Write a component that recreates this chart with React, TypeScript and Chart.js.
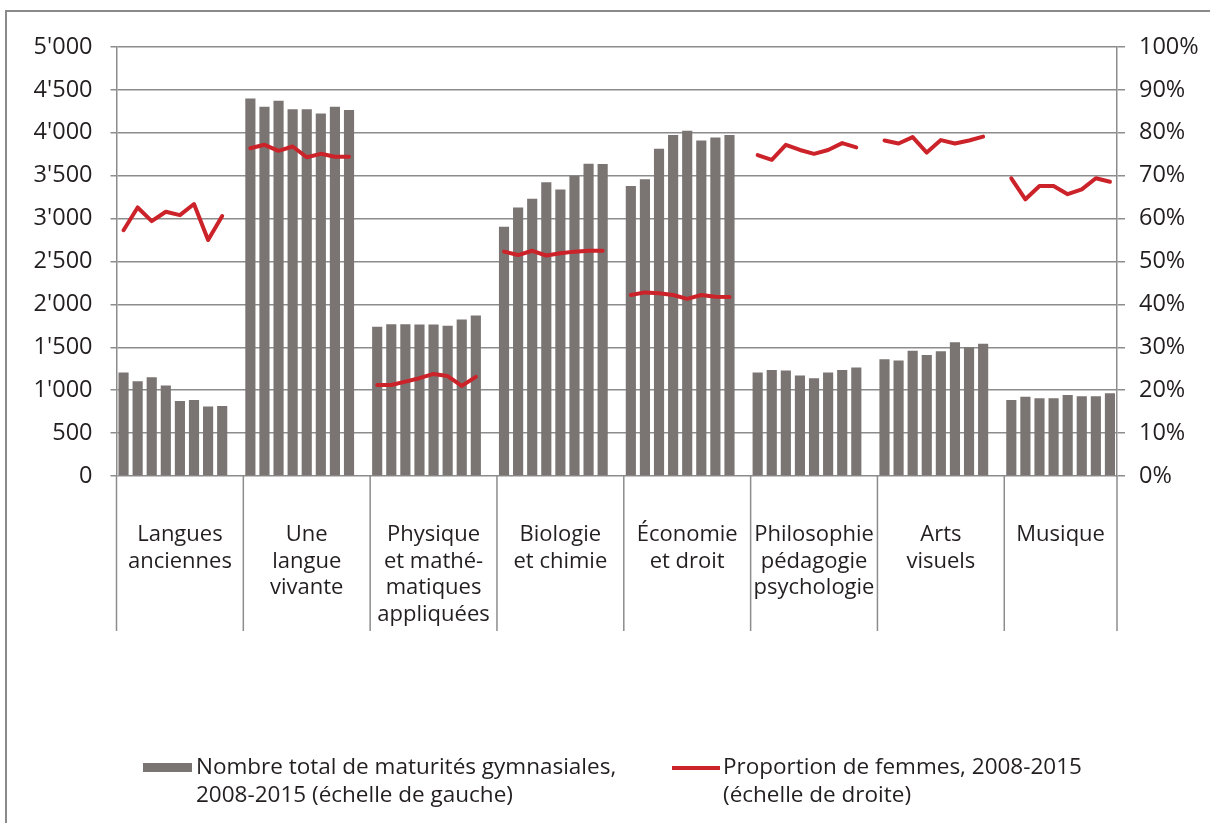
import React, { useEffect, useRef } from "react";
import { Chart, registerables } from "chart.js";

Chart.register(...registerables);

const groupLabels: string[][] = [
  ["Langues", "anciennes"],
  ["Une", "langue", "vivante"],
  ["Physique", "et mathé-", "matiques", "appliquées"],
  ["Biologie", "et chimie"],
  ["Économie", "et droit"],
  ["Philosophie", "pédagogie", "psychologie"],
  ["Arts", "visuels"],
  ["Musique"],
];

const years = ["2008", "2009", "2010", "2011", "2012", "2013", "2014", "2015"];

const totalsLangues = [1205, 1105, 1150, 1055, 875, 885, 810, 815];
const totalsLangueVivante = [4400, 4305, 4375, 4275, 4275, 4225, 4305, 4265];
const totalsPhysique = [1740, 1770, 1770, 1765, 1765, 1750, 1825, 1870];
const totalsBiologie = [2905, 3130, 3230, 3425, 3340, 3500, 3640, 3635];
const totalsEconomie = [3380, 3460, 3815, 3975, 4025, 3910, 3945, 3975];
const totalsPhilosophie = [1205, 1235, 1230, 1170, 1140, 1205, 1235, 1265];
const totalsArts = [1360, 1345, 1460, 1410, 1455, 1560, 1500, 1540];
const totalsMusique = [885, 925, 905, 905, 945, 930, 930, 965];

const womenLangues = [57.3, 62.6, 59.4, 61.6, 60.8, 63.4, 55.0, 60.6];
const womenLangueVivante = [76.4, 77.2, 75.8, 76.8, 74.3, 75.1, 74.4, 74.4];
const womenPhysique = [21.2, 21.2, 22.0, 22.8, 23.8, 23.3, 21.0, 23.1];
const womenBiologie = [52.3, 51.5, 52.5, 51.4, 51.9, 52.3, 52.5, 52.5];
const womenEconomie = [42.2, 42.8, 42.6, 42.2, 41.3, 42.2, 41.8, 41.7];
const womenPhilosophie = [74.8, 73.7, 77.2, 76.0, 75.1, 76.0, 77.6, 76.6];
const womenArts = [78.2, 77.5, 79.0, 75.4, 78.3, 77.5, 78.2, 79.1];
const womenMusique = [69.4, 64.5, 67.6, 67.6, 65.7, 66.8, 69.4, 68.6];

const leftTicks = [0, 500, 1000, 1500, 2000, 2500, 3000, 3500, 4000, 4500, 5000];
const rightTicks = [0, 10, 20, 30, 40, 50, 60, 70, 80, 90, 100];

const legendBarLabel = ["Nombre total de maturités gymnasiales,", "2008-2015 (échelle de gauche)"];
const legendLineLabel = ["Proportion de femmes, 2008-2015", "(échelle de droite)"];

const allTotals = [
  totalsLangues, totalsLangueVivante, totalsPhysique, totalsBiologie,
  totalsEconomie, totalsPhilosophie, totalsArts, totalsMusique,
];
const allWomen = [
  womenLangues, womenLangueVivante, womenPhysique, womenBiologie,
  womenEconomie, womenPhilosophie, womenArts, womenMusique,
];

const SLOTS_PER_GROUP = years.length + 1;

function buildSlots(src: number[][]): (number | null)[] {
  const out: (number | null)[] = [];
  src.forEach((arr, gi) => {
    arr.forEach((v) => out.push(v));
    if (gi < src.length - 1) out.push(null);
  });
  return out;
}

const FONT = "'Open Sans', 'DejaVu Sans', sans-serif";
const TEXT = "#231f20";
const GRID = "#8c8c8c";
const BAR = "#7a7572";
const RED = "#cc2229";

function fmtThousands(v: number): string {
  const s = String(Math.round(v));
  return s.replace(/\B(?=(\d{3})+(?!\d))/g, "'");
}

const overlay = {
  id: "overlay",
  beforeDraw(chart: any) {
    const ctx = chart.ctx;
    ctx.save();
    ctx.fillStyle = "#ffffff";
    ctx.fillRect(0, 0, chart.width, chart.height);
    ctx.strokeStyle = "#8a8a8a";
    ctx.lineWidth = 2;
    ctx.beginPath();
    ctx.moveTo(6, chart.height);
    ctx.lineTo(6, 11);
    ctx.lineTo(chart.width, 11);
    ctx.stroke();
    ctx.restore();
  },
  afterDraw(chart: any) {
    const ctx = chart.ctx;
    const x = chart.scales.x;
    const area = chart.chartArea;
    const slotW = x.getPixelForValue(1) - x.getPixelForValue(0);
    ctx.save();
    ctx.strokeStyle = GRID;
    ctx.lineWidth = 1.5;
    const bottomY = 631;
    const edges: number[] = [];
    for (let g = 0; g < groupLabels.length; g++) {
      edges.push(x.getPixelForValue(g * SLOTS_PER_GROUP) - slotW / 2);
    }
    edges.push(area.right);
    edges.forEach((ex) => {
      ctx.beginPath();
      ctx.moveTo(ex, area.bottom);
      ctx.lineTo(ex, bottomY);
      ctx.stroke();
    });
    ctx.fillStyle = TEXT;
    ctx.font = `22px ${FONT}`;
    ctx.textAlign = "center";
    ctx.textBaseline = "middle";
    groupLabels.forEach((lines, g) => {
      const cx = (edges[g] + edges[g + 1]) / 2;
      lines.forEach((ln, i) => {
        ctx.fillText(ln, cx, 535 + i * 26.5);
      });
    });
    // legend
    ctx.font = `22.5px ${FONT}`;
    ctx.textAlign = "left";
    ctx.fillStyle = BAR;
    ctx.fillRect(143, 763, 49, 9);
    ctx.fillStyle = TEXT;
    legendBarLabel.forEach((ln, i) => ctx.fillText(ln, 196, 768 + i * 28));
    ctx.strokeStyle = RED;
    ctx.lineWidth = 4;
    ctx.beginPath();
    ctx.moveTo(672, 768);
    ctx.lineTo(720, 768);
    ctx.stroke();
    legendLineLabel.forEach((ln, i) => ctx.fillText(ln, 723, 768 + i * 28));
    ctx.restore();
  },
};

export default function App() {
  const ref = useRef<HTMLCanvasElement | null>(null);
  useEffect(() => {
    if (!ref.current) return;
    const barData = buildSlots(allTotals);
    const lineData = buildSlots(allWomen);
    const labels = barData.map((_, i) => String(i));
    const chart = new Chart(ref.current, {
      type: "bar",
      data: {
        labels,
        datasets: [
          {
            type: "line",
            label: legendLineLabel.join(" "),
            data: lineData,
            yAxisID: "y1",
            borderColor: RED,
            backgroundColor: RED,
            borderWidth: 4,
            pointRadius: 0,
            spanGaps: false,
            tension: 0,
            borderJoinStyle: "round",
            borderCapStyle: "round",
            order: 0,
          } as any,
          {
            type: "bar",
            label: legendBarLabel.join(" "),
            data: barData,
            yAxisID: "y",
            backgroundColor: BAR,
            borderWidth: 0,
            categoryPercentage: 1,
            barPercentage: 0.72,
            order: 1,
          } as any,
        ],
      },
      options: {
        animation: false,
        responsive: false,
        maintainAspectRatio: false,
        layout: { padding: { top: 47, left: 0, right: 0, bottom: 0 } },
        plugins: {
          legend: { display: false },
          tooltip: { enabled: false },
          title: { display: false },
        },
        scales: {
          x: {
            type: "category",
            offset: true,
            grid: { display: false },
            border: { display: false },
            ticks: { display: false },
            afterFit: (s: any) => {
              s.height = 823 - 476;
            },
          },
          y: {
            position: "left",
            min: 0,
            max: 5000,
            afterBuildTicks: (s: any) => {
              s.ticks = leftTicks.map((v) => ({ value: v }));
            },
            afterFit: (s: any) => {
              s.width = 116.5;
            },
            grid: {
              color: GRID,
              lineWidth: 1.5,
              tickLength: 6,
              tickColor: GRID,
              drawTicks: true,
            },
            border: { display: true, color: GRID, width: 1.5 },
            ticks: {
              padding: 18,
              color: TEXT,
              font: { family: FONT, size: 23.5 },
              callback: (v: any) => fmtThousands(Number(v)),
            },
          },
          y1: {
            position: "right",
            min: 0,
            max: 100,
            afterBuildTicks: (s: any) => {
              s.ticks = rightTicks.map((v) => ({ value: v }));
            },
            afterFit: (s: any) => {
              s.width = 1210 - 1117;
            },
            grid: {
              drawOnChartArea: false,
              color: GRID,
              lineWidth: 1.5,
              tickLength: 8,
              tickColor: GRID,
            },
            border: { display: true, color: GRID, width: 1.5 },
            ticks: {
              padding: 14,
              color: TEXT,
              font: { family: FONT, size: 23.5 },
              callback: (v: any) => `${v}%`,
            },
          },
        },
      } as any,
      plugins: [overlay],
    });
    return () => chart.destroy();
  }, []);
  return (
    <div style={{ position: "fixed", left: 0, top: 0, width: 1210, height: 823, background: "#fff" }}>
      <canvas ref={ref} width={1210} height={823} style={{ display: "block", width: 1210, height: 823 }} />
    </div>
  );
}
